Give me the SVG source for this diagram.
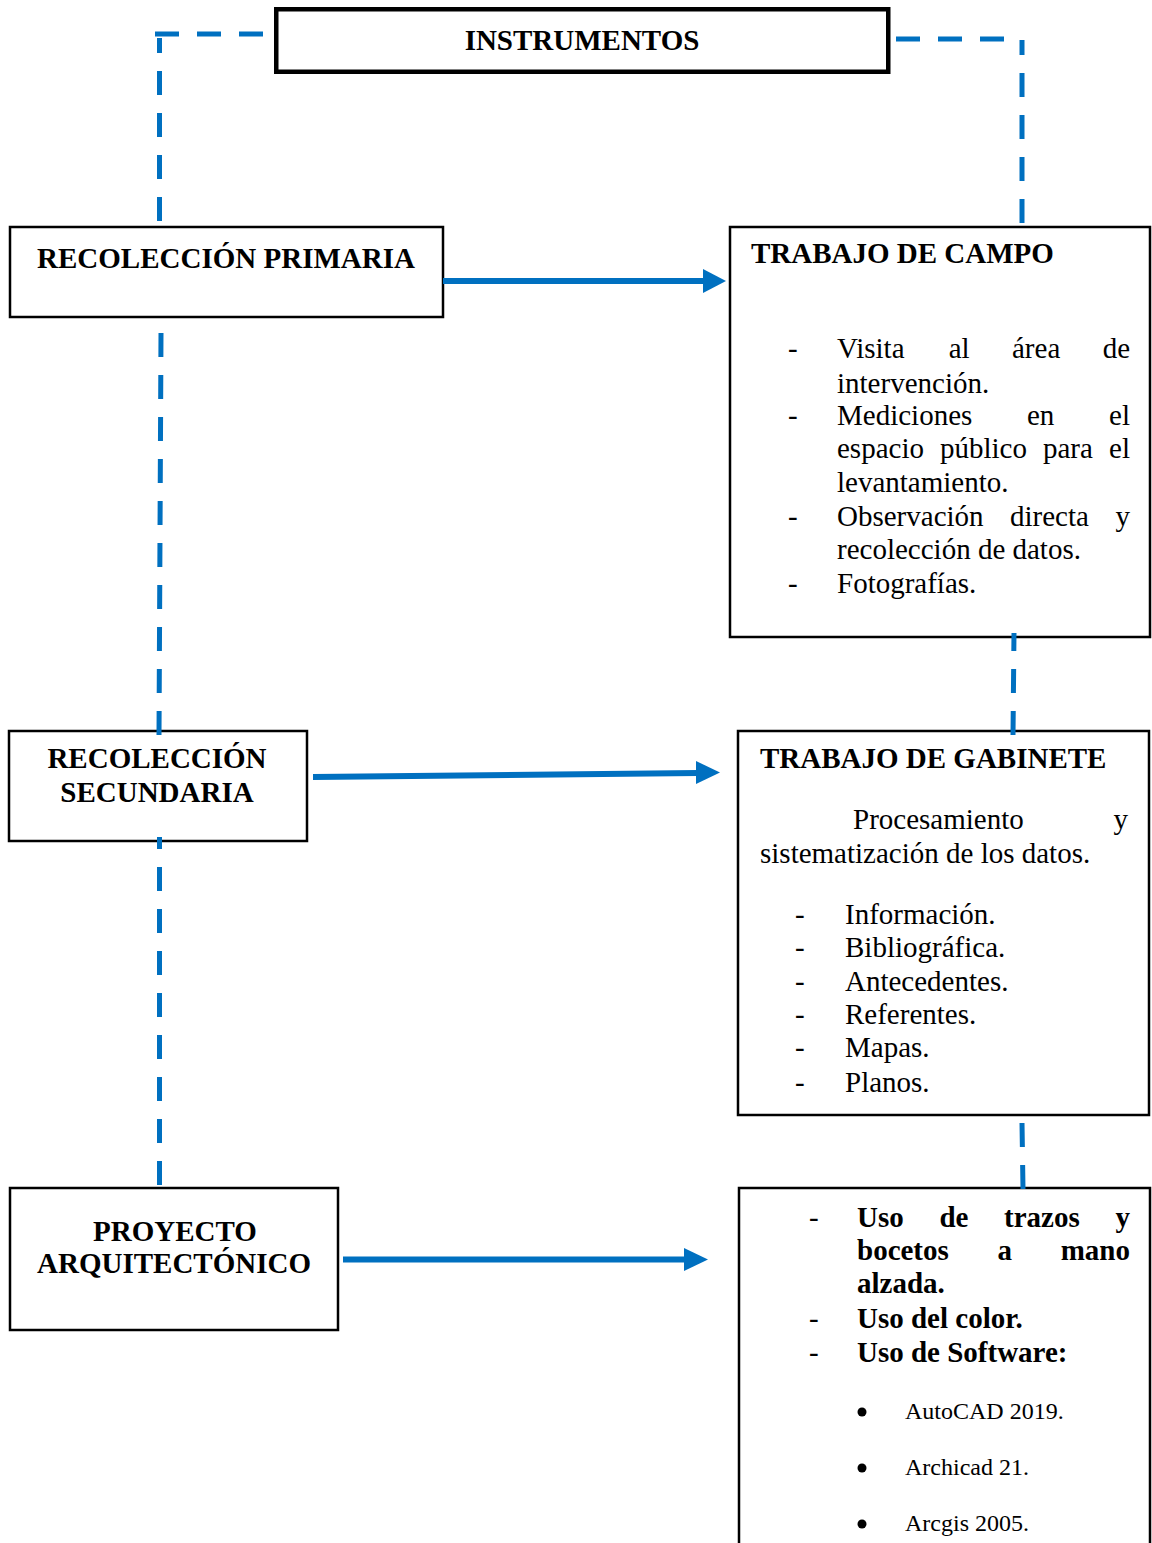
<svg xmlns="http://www.w3.org/2000/svg" width="1152" height="1543" viewBox="0 0 1152 1543">
<style>
.box{fill:#fff;stroke:#000;stroke-width:2.5}
.t{font-family:"Liberation Serif","Times New Roman",serif;font-size:29px;fill:#000}
.b{font-weight:bold}
.s{font-size:24px}
.c{text-anchor:middle}
.e{text-anchor:end}
.dash{stroke:#0070C0;stroke-width:5;fill:none;stroke-dasharray:24 18}
.shaft{stroke:#0070C0;stroke-width:6;fill:none}
.head{fill:#0070C0}
</style>
<rect width="1152" height="1543" fill="#fff"/>

<g id="n-instrumentos">
<rect x="276.25" y="9.25" width="612" height="62.5" fill="#fff" stroke="#000" stroke-width="4.5"/>
<text class="t b c" x="582" y="50">INSTRUMENTOS</text>
</g>

<g id="n-primaria">
<rect class="box" x="10" y="227" width="433" height="90"/>
<text class="t b c" x="226" y="268">RECOLECCIÓN PRIMARIA</text>
</g>

<g id="n-campo">
<rect class="box" x="730" y="227" width="420" height="410"/>
<text class="t b" x="751" y="263">TRABAJO DE CAMPO</text>
<g class="t">
<text x="788" y="358">-</text>
<text x="837" y="358">Visita</text>
<text x="948.7" y="358">al</text>
<text x="1012" y="358">área</text>
<text class="e" x="1130" y="358">de</text>
<text x="837" y="393">intervención.</text>
<text x="788" y="425">-</text>
<text x="837" y="425">Mediciones</text>
<text x="1027" y="425">en</text>
<text class="e" x="1130" y="425">el</text>
<text x="837" y="458">espacio</text>
<text x="940" y="458">público</text>
<text x="1043" y="458">para</text>
<text class="e" x="1130" y="458">el</text>
<text x="837" y="492">levantamiento.</text>
<text x="788" y="526">-</text>
<text x="837" y="526">Observación</text>
<text x="1010" y="526">directa</text>
<text class="e" x="1130" y="526">y</text>
<text x="837" y="559">recolección de datos.</text>
<text x="788" y="593">-</text>
<text x="837" y="593">Fotografías.</text>
</g>
</g>

<g id="n-secundaria">
<rect class="box" x="9" y="731" width="298" height="110"/>
<text class="t b c" x="157" y="768">RECOLECCIÓN</text>
<text class="t b c" x="157" y="802">SECUNDARIA</text>
</g>

<g id="n-gabinete">
<rect class="box" x="738" y="731" width="411" height="384"/>
<text class="t b" x="760" y="768">TRABAJO DE GABINETE</text>
<g class="t">
<text x="853" y="829">Procesamiento</text>
<text class="e" x="1128" y="829">y</text>
<text x="760" y="863">sistematización de los datos.</text>
<text x="795" y="924">-</text><text x="845" y="924">Información.</text>
<text x="795" y="957">-</text><text x="845" y="957">Bibliográfica.</text>
<text x="795" y="991">-</text><text x="845" y="991">Antecedentes.</text>
<text x="795" y="1024">-</text><text x="845" y="1024">Referentes.</text>
<text x="795" y="1057">-</text><text x="845" y="1057">Mapas.</text>
<text x="795" y="1092">-</text><text x="845" y="1092">Planos.</text>
</g>
</g>

<g id="n-proyecto">
<rect class="box" x="10" y="1188" width="328" height="142"/>
<text class="t b c" x="175" y="1241">PROYECTO</text>
<text class="t b c" x="174" y="1273">ARQUITECTÓNICO</text>
</g>

<g id="n-herramientas">
<rect class="box" x="739" y="1188" width="411" height="380"/>
<g class="t">
<text x="809" y="1227">-</text>
<text x="809" y="1328">-</text>
<text x="809" y="1362">-</text>
</g>
<g class="t b">
<text x="857" y="1227">Uso</text>
<text x="939.4" y="1227">de</text>
<text x="1004" y="1227">trazos</text>
<text class="e" x="1130" y="1227">y</text>
<text x="857" y="1260">bocetos</text>
<text x="997.5" y="1260">a</text>
<text class="e" x="1130" y="1260">mano</text>
<text x="857" y="1293">alzada.</text>
<text x="857" y="1328">Uso del color.</text>
<text x="857" y="1362">Uso de Software:</text>
</g>
<circle cx="862" cy="1412" r="4.5" fill="#000"/>
<text class="t s" x="905" y="1419">AutoCAD 2019.</text>
<circle cx="862" cy="1468" r="4.5" fill="#000"/>
<text class="t s" x="905" y="1475">Archicad 21.</text>
<circle cx="862" cy="1524" r="4.5" fill="#000"/>
<text class="t s" x="905" y="1531">Arcgis 2005.</text>
</g>

<g id="connectors">
<line class="dash" x1="155" y1="34" x2="264" y2="34"/>
<line class="dash" x1="159.5" y1="38" x2="159.5" y2="226" stroke-dashoffset="9"/>
<line class="dash" x1="896" y1="39" x2="1005" y2="39"/>
<line class="dash" x1="1022" y1="40" x2="1022" y2="226" stroke-dashoffset="9"/>
<line class="dash" x1="161" y1="333" x2="159" y2="735"/>
<line class="dash" x1="159.5" y1="837" x2="159.5" y2="1188" stroke-dashoffset="12"/>
<line class="dash" x1="1014" y1="633" x2="1013" y2="735" stroke-dashoffset="6"/>
<line class="dash" x1="1022" y1="1123" x2="1023" y2="1189"/>
<line class="shaft" x1="443" y1="281" x2="706" y2="281"/>
<polygon class="head" points="703,269 726,281 703,293"/>
<line class="shaft" x1="313" y1="777" x2="698" y2="773"/>
<polygon class="head" points="696,761 720,772.5 696,784"/>
<line class="shaft" x1="343" y1="1259.5" x2="686" y2="1259.5"/>
<polygon class="head" points="684,1248 708,1259.5 684,1271"/>
</g>
</svg>
